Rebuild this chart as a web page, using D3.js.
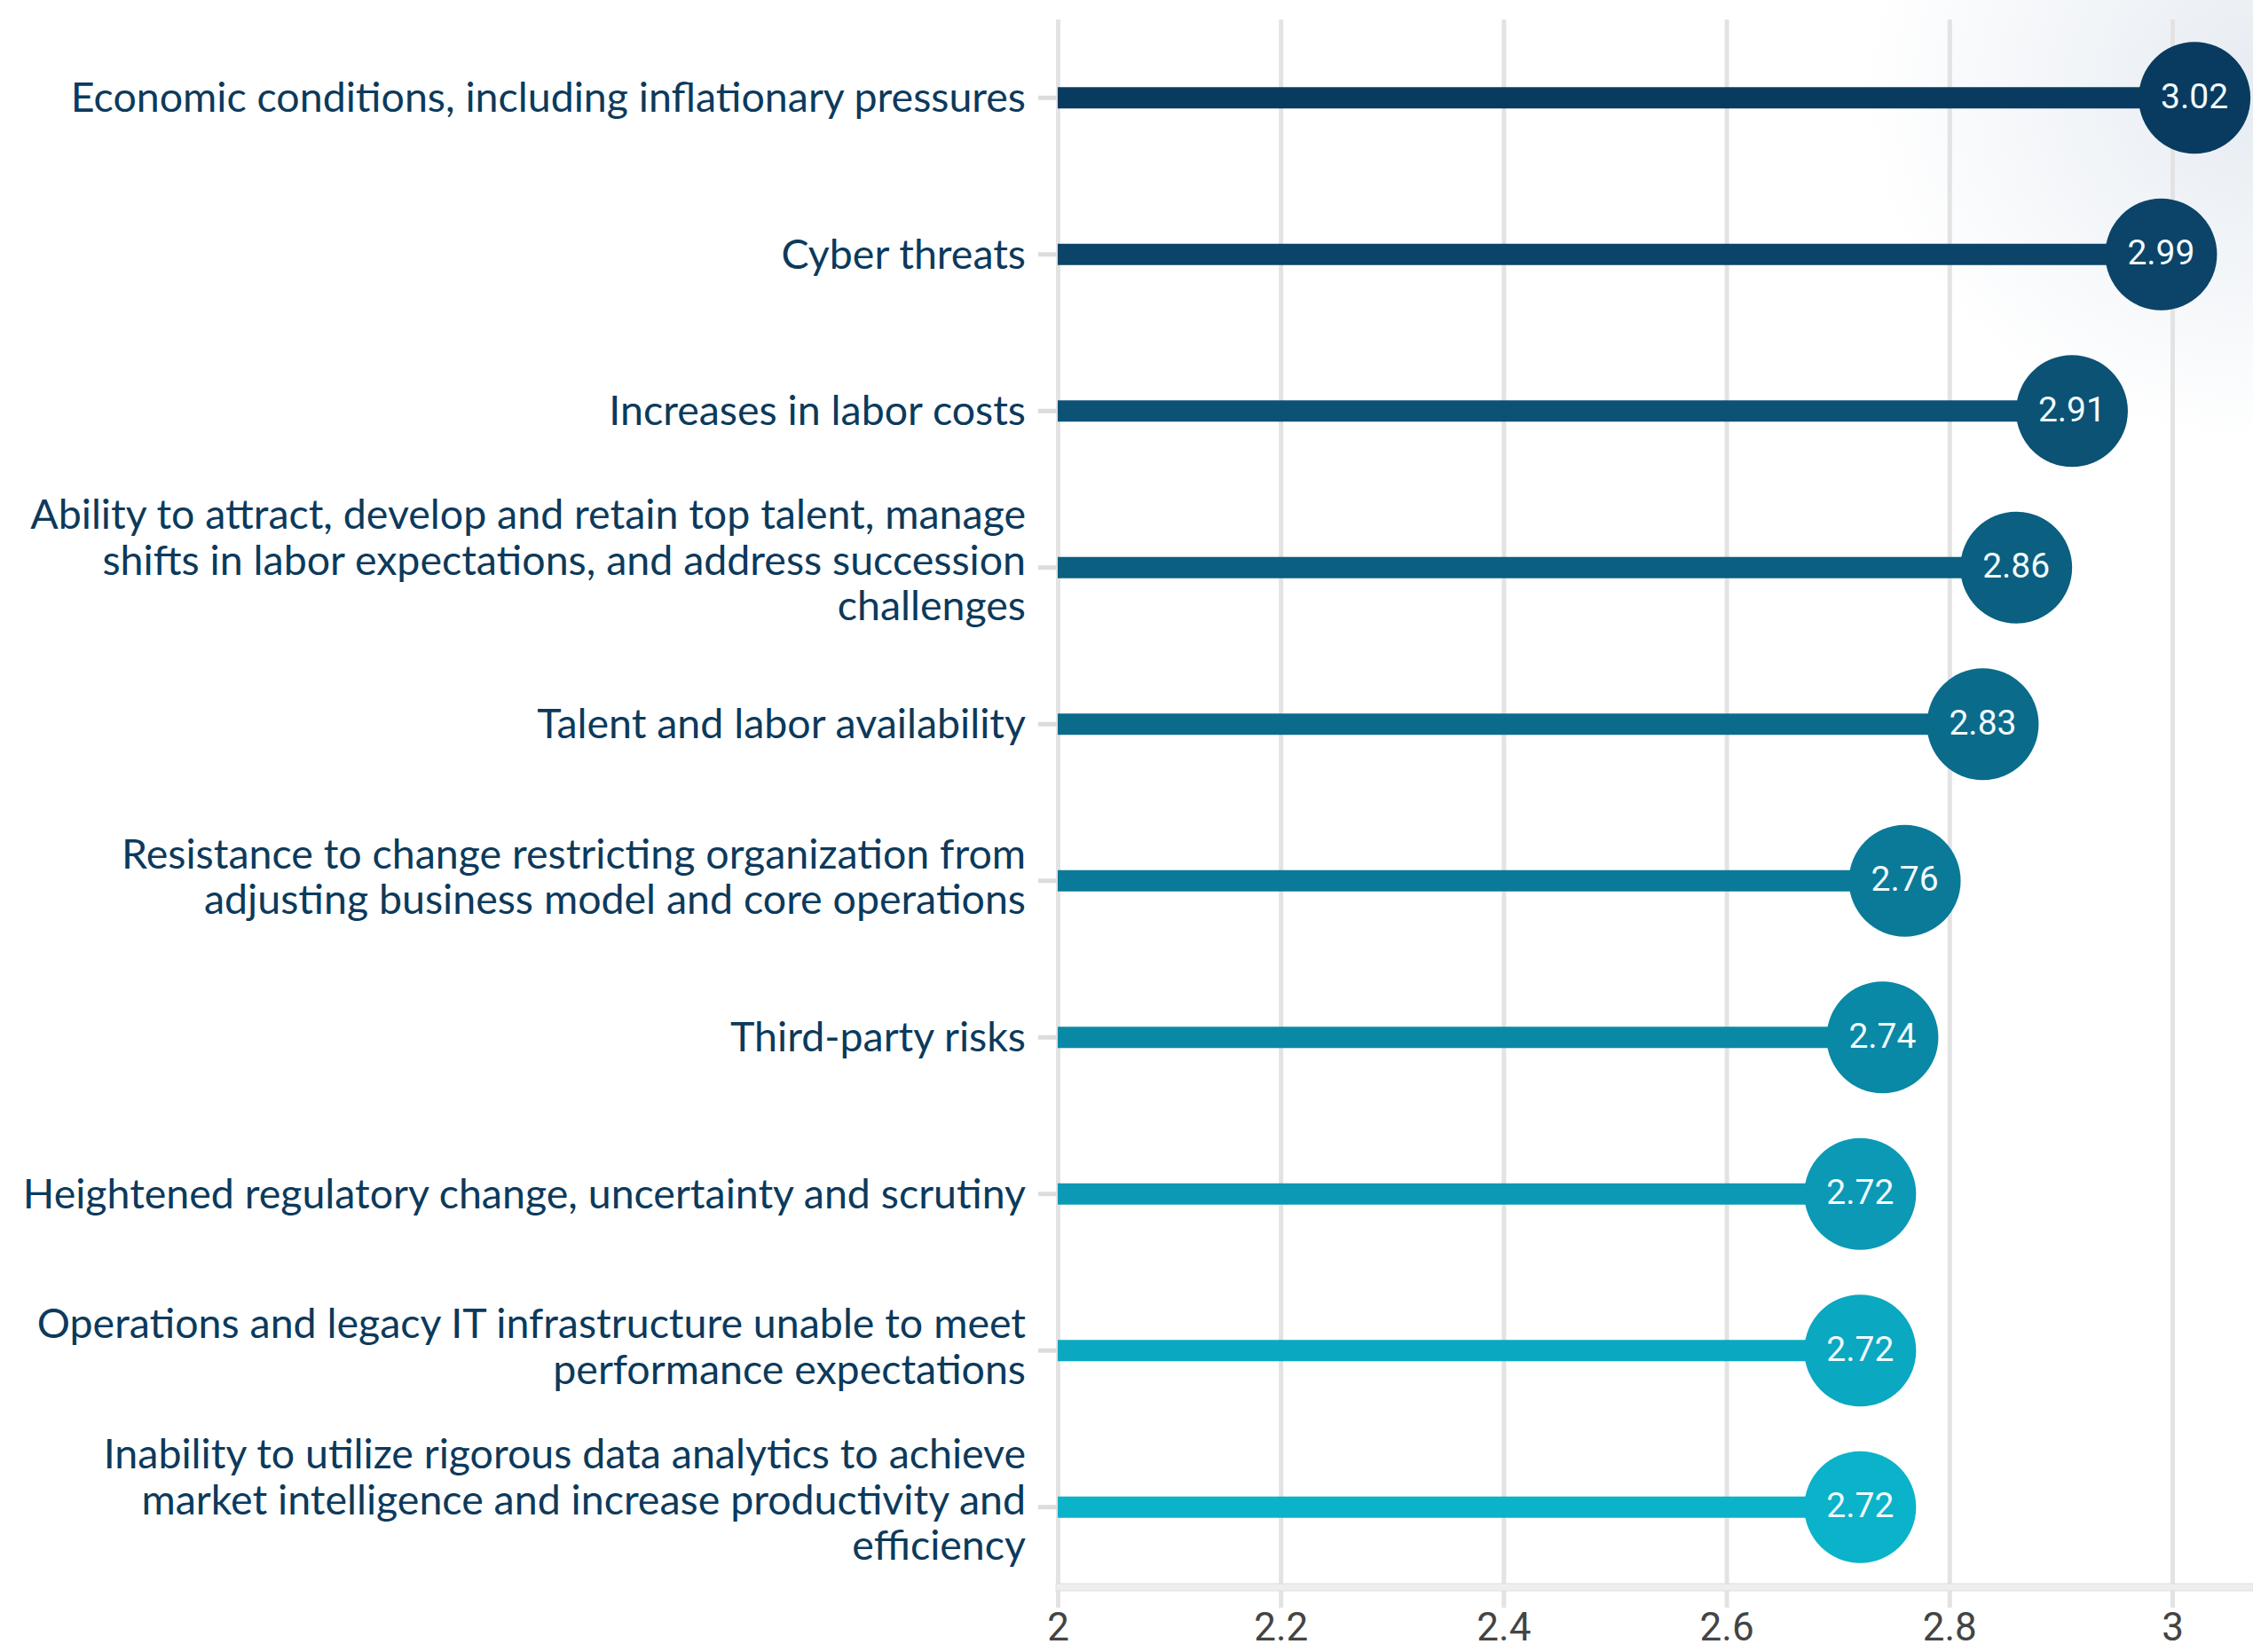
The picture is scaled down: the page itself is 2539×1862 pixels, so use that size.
<!DOCTYPE html>
<html>
<head>
<meta charset="utf-8">
<script src="https://cdn.jsdelivr.net/npm/d3@7"></script>
<style>
  html, body { margin: 0; padding: 0; background: #fff; }
  svg { display: block; }
</style>
</head>
<body>
<div id="chart"></div>
<script>
// DATA

var categories = [
    "Economic conditions, including inflationary pressures",
    "Cyber threats",
    "Increases in labor costs",
    "Ability to attract, develop and retain top talent, manage\nshifts in labor expectations, and address succession\nchallenges",
    "Talent and labor availability",
    "Resistance to change restricting organization from\nadjusting business model and core operations",
    "Third-party risks",
    "Heightened regulatory change, uncertainty and scrutiny",
    "Operations and legacy IT infrastructure unable to meet\nperformance expectations",
    "Inability to utilize rigorous data analytics to achieve\nmarket intelligence and increase productivity and\nefficiency"
];

var scores = [3.02, 2.99, 2.91, 2.86, 2.83, 2.76, 2.74, 2.72, 2.72, 2.72];

var xTicks = [2, 2.2, 2.4, 2.6, 2.8, 3];

var rowColors = ["#083b5f", "#0b4468", "#0b5274", "#0b5f80", "#0a6b8b",
                 "#0a7a98", "#0a89a6", "#0b99b5", "#0aa8c1", "#0ab3c9"];

// LAYOUT

var width = 2539;
var height = 1862;

var plotTop = 22;
var plotBottom = 1787;
var axisY = 1789;
var gridBottom = 1812;

var x = d3.scaleLinear()
    .domain([2, 3])
    .range([1192, 2448]);

var y = d3.scaleBand()
    .domain(categories)
    .range([plotTop, plotBottom])
    .padding(0);

var svg = d3.select("#chart")
    .append("svg")
    .attr("width", width)
    .attr("height", height);

// faint shading in the top right corner
var defs = svg.append("defs");
var grad = defs.append("radialGradient")
    .attr("id", "shade")
    .attr("cx", 0.5).attr("cy", 0.5).attr("r", 0.5);
grad.append("stop").attr("offset", "0%").attr("stop-color", "#e4eaf1").attr("stop-opacity", 0.95);
grad.append("stop").attr("offset", "100%").attr("stop-color", "#e4eaf1").attr("stop-opacity", 0);

svg.append("ellipse")
    .attr("cx", 2560)
    .attr("cy", 100)
    .attr("rx", 460)
    .attr("ry", 400)
    .style("fill", "url(#shade)");

// vertical gridlines + tick labels
var xAxis = svg.append("g")
    .attr("transform", "translate(0," + gridBottom + ")")
    .call(d3.axisBottom(x)
        .tickValues(xTicks)
        .tickSize(-(gridBottom - plotTop))
        .tickPadding(0)
        .tickFormat(d3.format("")));

xAxis.select(".domain").remove();
xAxis.selectAll(".tick line")
    .attr("stroke", "#e3e3e3")
    .attr("stroke-width", 5);
xAxis.selectAll(".tick text")
    .attr("y", 37)
    .attr("dy", null)
    .attr("fill", "#444")
    .style("font-family", "Roboto, 'Liberation Sans', sans-serif")
    .style("font-size", "44px");

// horizontal base line
svg.append("rect")
    .attr("x", x(2) - 2)
    .attr("y", axisY - 4)
    .attr("width", width - x(2) + 2)
    .attr("height", 8)
    .style("fill", "#eeeeee")
    .style("stroke", "#dedede")
    .style("stroke-width", 1);

// y axis with short stubs and wrapped labels
var yAxis = svg.append("g")
    .attr("transform", "translate(" + x(2) + ",0)")
    .call(d3.axisLeft(y).tickSize(22).tickPadding(14));

yAxis.select(".domain").remove();
yAxis.selectAll(".tick line")
    .attr("stroke", "#dcdcdc")
    .attr("stroke-width", 5);

yAxis.selectAll(".tick text")
    .attr("fill", "#0c3a5c")
    .style("font-family", "Lato, 'Open Sans', sans-serif")
    .style("font-size", "46.5px")
    .each(function (d) {
        var lines = d.split("\n");
        var t = d3.select(this).text(null).attr("dy", null);
        var lh = 51.5;
        var first = -(lines.length - 1) / 2 * lh - (lines.length - 1) * 4;
        lines.forEach(function (line, i) {
            t.append("tspan")
                .attr("x", -36)
                .attr("y", first + i * lh)
                .attr("dy", "0.34em")
                .text(line);
        });
    });

// lollipops
var rows = svg.selectAll("g.row")
    .data(categories)
    .enter()
    .append("g")
    .attr("class", "row");

rows.append("rect")
    .attr("x", x(2))
    .attr("y", function (d) { return y(d) + y.bandwidth() / 2 - 12; })
    .attr("width", function (d, i) { return x(scores[i]) - x(2); })
    .attr("height", 24)
    .style("fill", function (d, i) { return rowColors[i]; });

rows.append("circle")
    .attr("cx", function (d, i) { return x(scores[i]); })
    .attr("cy", function (d) { return y(d) + y.bandwidth() / 2; })
    .attr("r", 63)
    .style("fill", function (d, i) { return rowColors[i]; });

rows.append("text")
    .attr("x", function (d, i) { return x(scores[i]); })
    .attr("y", function (d) { return y(d) + y.bandwidth() / 2 - 2; })
    .attr("dy", "0.35em")
    .attr("text-anchor", "middle")
    .style("font-family", "Roboto, 'Liberation Sans', sans-serif")
    .style("font-size", "39px")
    .style("fill", "#f2fbff")
    .text(function (d, i) { return scores[i].toFixed(2); });
</script>
</body>
</html>
